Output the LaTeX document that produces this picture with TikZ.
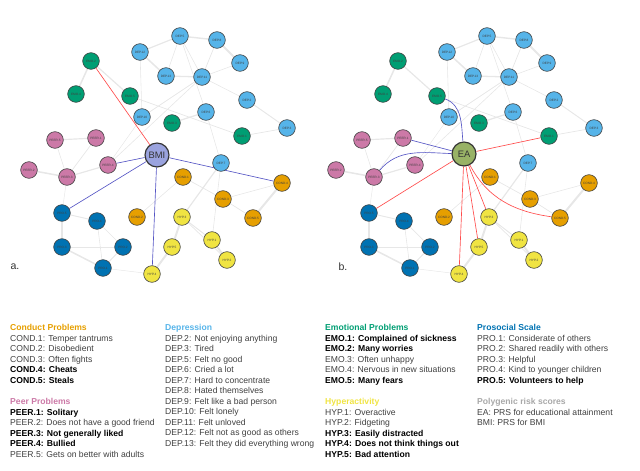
\documentclass[tikz,border=0pt]{standalone}
\usepackage{fontspec}
\setmainfont{Liberation Sans}
\usetikzlibrary{backgrounds}
\definecolor{condc}{HTML}{E69F00}
\definecolor{depc}{HTML}{56B4E9}
\definecolor{emoc}{HTML}{009E73}
\definecolor{peerc}{HTML}{CC79A7}
\definecolor{proc}{HTML}{0072B2}
\definecolor{hypc}{HTML}{F0E442}
\definecolor{prsc}{HTML}{A8A8A8}
\definecolor{bmic}{HTML}{9AA3DE}
\definecolor{eac}{HTML}{98B266}
\definecolor{posc}{HTML}{FF4B4B}
\definecolor{negc}{HTML}{5555C4}
\newcommand{\bolditem}[1]{{\bfseries\color{black}#1}}
\begin{document}
\begin{tikzpicture}[x = .3mm, y = -.3mm,
  item/.style = {circle, draw = black!75, line width = .5, minimum size = 5mm, inner sep = 0,
    font = \fontsize{2.7}{3}\selectfont, text = black!75},
  cond/.style = {item, fill = condc}, dep/.style = {item, fill = depc},
  emo/.style = {item, fill = emoc}, peer/.style = {item, fill = peerc},
  pro/.style = {item, fill = proc}, hyp/.style = {item, fill = hypc},
  prs/.style = {circle, draw = black!80, line width = 1, minimum size = 7.2mm, inner sep = 0,
    font = \fontsize{8}{9}\selectfont, text = black!80},
  tie/.style = {gray!19, line width = #1}, tie/.default = .5,
  assocpos/.style = {posc, line width = .55},
  assocneg/.style = {negc, line width = .55},
  legendtext/.style = {anchor = north west, align = left, inner sep = 0, text = black!75,
    font = \fontsize{7.35}{9}\selectfont},
  sdq/.pic = {
    \foreach \n/\x/\y in {5/180/36, 8/217/40, 9/240/63, 12/140/52, 13/166/76, 11/202/77,
      2/247/100, 10/142/117, 6/206/112, 3/287/128, 7/221/163}
      \node[dep] (-d\n) at (\x, \y) {DEP.\n};
    \foreach \n/\x/\y in {2/91/61, 4/76/94, 5/130/96, 3/172/123, 1/242/136}
      \node[emo] (-e\n) at (\x, \y) {EMO.\n};
    \foreach \n/\x/\y in {5/55/140, 1/96/138, 2/29/170, 3/67/177, 4/108/165}
      \node[peer] (-p\n) at (\x, \y) {PEER.\n};
    \foreach \n/\x/\y in {5/62/213, 4/97/221, 3/62/247, 2/123/247, 1/103/268}
      \node[pro] (-r\n) at (\x, \y) {PRO.\n};
    \foreach \n/\x/\y in {1/183/177, 4/282/183, 3/223/199, 2/137/217, 5/253/218}
      \node[cond] (-c\n) at (\x, \y) {COND.\n};
    \foreach \n/\x/\y in {3/182/217, 1/212/240, 5/172/247, 2/227/260, 4/152/274}
      \node[hyp] (-h\n) at (\x, \y) {HYP.\n};
    \begin{scope}[on background layer]
      \foreach \a/\b/\w in {d5/d8/1.2, d5/d12/1, d5/d13/.5, d5/d11/.5, d5/d6/.5, d8/d11/.6,
        d8/d9/1.7, d9/d11/.5, d12/d13/1.3, d13/d11/1.1, d11/d2/.5, d11/d10/.6, d12/d10/.5,
        d2/d3/.8, d3/e1/.6, d6/e3/1.1, d6/d7/.5, e2/e4/1.3, e2/e5/1, e5/e1/.6,
        p5/p1/1, p5/p3/.5, p1/p3/.6, p2/p3/1.3, p3/p4/1, p4/d11/.5, p4/d10/.4, p3/r5/.4,
        r5/r4/.8, r5/r3/1.3, r4/r2/.6, r4/r1/.5, r3/r2/.8, r3/r1/1.3, r2/r1/.8, r1/h4/.4,
        c1/c3/.6, c1/c2/.5, c3/c4/.5, c3/c5/.6, c4/c5/1.7, d7/h3/1, d7/h1/.5,
        h3/h5/1.7, h3/h1/.8, h3/h2/.6, h1/h2/1.7, h5/h4/1.7}
        \draw[tie = \w] (-\a) -- (-\b);
    \end{scope}
  }
]
\useasboundingbox (0, 0) rectangle (640, 471);
% networks
\pic (a) at (0, 0) {sdq};
\pic (b) at (307, 0) {sdq};
\node[prs, fill = bmic] (bmi) at (157, 155) {BMI};
\node[prs, fill = eac] (ea) at (464, 154) {EA};
\begin{scope}[on background layer]
  \draw[assocpos] (bmi) -- (a-e2);
  \foreach \t in {p4, r5, h4, c4} \draw[assocneg] (bmi) -- (a-\t);
  \foreach \t in {e1, r5, h4, h5, h3} \draw[assocpos] (ea) -- (b-\t);
  \draw[assocpos] (ea) to[out = -62, in = 172] (b-c5);
  \draw[assocneg] (ea) -- (b-p1);
  \draw[assocneg] (ea) to[out = 95, in = -20] (b-e5);
  \draw[assocneg] (ea) to[out = 178, in = 50] (b-p3);
\end{scope}
\node[font = \fontsize{9}{10}\selectfont, text = black!80] (lbla) at (15, 267) {a.};
\node[font = \fontsize{9}{10}\selectfont, text = black!80] (lblb) at (343, 267) {b.};
% legend
\node[legendtext] (kcond) at (10, 324) {\bolditem{\color{condc}Conduct Problems}\\
  COND.1: Temper tantrums\\ COND.2: Disobedient\\ COND.3: Often fights\\
  \bolditem{COND.4: Cheats}\\ \bolditem{COND.5: Steals}};
\node[legendtext] (kpeer) at (10, 398) {\bolditem{\color{peerc}Peer Problems}\\
  \bolditem{PEER.1: Solitary}\\ PEER.2: Does not have a good friend\\
  \bolditem{PEER.3: Not generally liked}\\ \bolditem{PEER.4: Bullied}\\
  PEER.5: Gets on better with adults};
\node[legendtext] (kdep) at (165, 324) {\bolditem{\color{depc}Depression}\\
  DEP.2: Not enjoying anything\\ DEP.3: Tired\\ DEP.5: Felt no good\\ DEP.6: Cried a lot\\
  DEP.7: Hard to concentrate\\ DEP.8: Hated themselves\\ DEP.9: Felt like a bad person\\
  DEP.10: Felt lonely\\ DEP.11: Felt unloved\\ DEP.12: Felt not as good as others\\
  DEP.13: Felt they did everything wrong};
\node[legendtext] (kemo) at (325, 324) {\bolditem{\color{emoc}Emotional Problems}\\
  \bolditem{EMO.1: Complained of sickness}\\ \bolditem{EMO.2: Many worries}\\
  EMO.3: Often unhappy\\ EMO.4: Nervous in new situations\\ \bolditem{EMO.5: Many fears}};
\node[legendtext] (khyp) at (325, 398) {\bolditem{\color{hypc}Hyperactivity}\\
  HYP.1: Overactive\\ HYP.2: Fidgeting\\ \bolditem{HYP.3: Easily distracted}\\
  \bolditem{HYP.4: Does not think things out}\\ \bolditem{HYP.5: Bad attention}};
\node[legendtext] (kpro) at (477, 324) {\bolditem{\color{proc}Prosocial Scale}\\
  PRO.1: Considerate of others\\ PRO.2: Shared readily with others\\ PRO.3: Helpful\\
  PRO.4: Kind to younger children\\ \bolditem{PRO.5: Volunteers to help}};
\node[legendtext] (kprs) at (477, 398) {\bolditem{\color{prsc}Polygenic risk scores}\\
  EA: PRS for educational attainment\\ BMI: PRS for BMI};
\end{tikzpicture}
\end{document}
